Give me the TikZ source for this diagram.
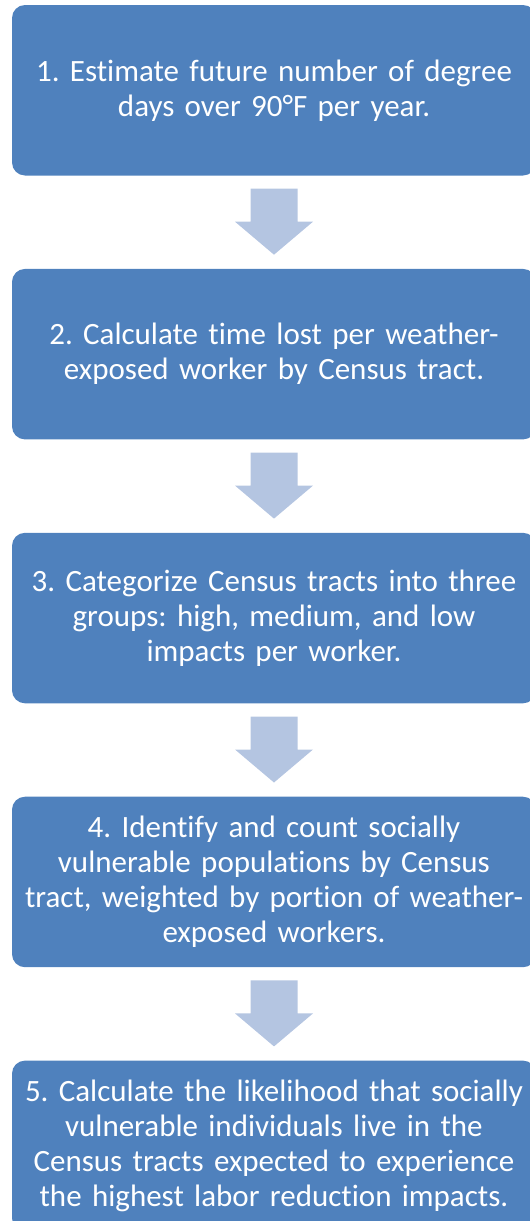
\documentclass[tikz,border=0pt]{standalone}
\usepackage{fontspec}
\setmainfont{Carlito}[Ligatures=NoCommon]
\usepackage{xcolor}
\usepackage{tikz}
\usetikzlibrary{chains,positioning,calc}

\definecolor{stepblue}{RGB}{79,129,189}
\definecolor{arrowgrey}{RGB}{180,197,225}

\begin{document}
\frenchspacing
\begin{tikzpicture}[
    stepbox/.style={
      fill=stepblue,
      rounded corners=13pt,
      minimum width=524pt,
      minimum height=170.5pt,
      text width=515pt,
      align=center,
      text=white,
      font=\fontsize{31}{35}\selectfont
    },
    start chain=going below,node distance=93pt
    ]
    \useasboundingbox (0,0) rectangle (530pt,-1221pt);
    \node[on chain,stepbox] at (274pt,-90.25pt)
      (s1) {1. Estimate future number of degree\\days over 90°F per year.};
    \node[on chain,stepbox]
      (s2) {2. Calculate time lost per weather-\\exposed worker by Census tract.};
    \node[on chain,stepbox]
      (s3) {3. Categorize Census tracts into three\\groups: high, medium, and low\\impacts per worker.};
    \node[on chain,stepbox]
      (s4) {4. Identify and count socially\\vulnerable populations by Census\\tract, weighted by portion of weather-\\exposed workers.};
    \node[on chain,stepbox]
      (s5) {5. Calculate the likelihood that socially\\vulnerable individuals live in the\\Census tracts expected to experience\\the highest labor reduction impacts.};

    % block arrows between the steps
    \foreach \i [count=\j from 2] in {1,...,4}
      \fill[arrowgrey] ($(s\i.south)+(-23.5pt,-13pt)$) -- ($(s\i.south)+(23.5pt,-13pt)$)
        -- ++(0,-33pt) -- ++(15.5pt,0) -- ($(s\j.north)+(0,14pt)$)
        -- ++(-39pt,33pt) -- ++(15.5pt,0) -- cycle;
\end{tikzpicture}
\end{document}
